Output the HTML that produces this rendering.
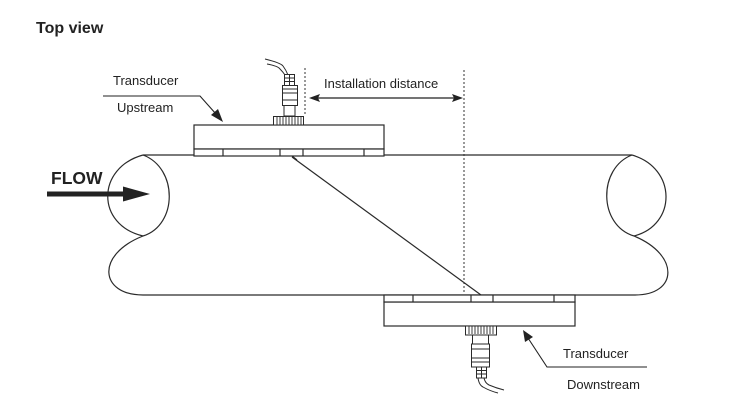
<!DOCTYPE html>
<html><head><meta charset="utf-8"><style>
html,body{margin:0;padding:0;background:#fff;}
svg{display:block;}
text{font-family:"Liberation Sans",Arial,sans-serif;fill:#222;}
</style></head><body>
<svg width="733" height="401" viewBox="0 0 733 401" xmlns="http://www.w3.org/2000/svg">
<rect width="733" height="401" fill="#fff"/>
<text x="36" y="33" font-size="16" font-weight="bold" fill="#111">Top view</text>

<g fill="none" stroke="#2a2a2a" stroke-width="1.2">
<line x1="143" y1="155" x2="632" y2="155"/>
<line x1="143" y1="295" x2="635" y2="295"/>
<path d="M143,155 C96,168 96,225 143,236"/>
<path d="M143,155 C178,168 178,225 143,236"/>
<path d="M143,236 C95,255 100,295 143,295"/>
<path d="M632,155 C598,168 598,225 634,236"/>
<path d="M632,155 C677,168 677,225 634,236"/>
<path d="M634,236 C680,255 678,295 635,295"/>
<line x1="292" y1="157" x2="481" y2="295"/>
</g>

<g fill="#fff" stroke="#2a2a2a" stroke-width="1.2">
<rect x="194" y="125" width="190" height="24"/>
<rect x="194" y="149" width="190" height="7"/>
<line x1="223" y1="149" x2="223" y2="156"/>
<line x1="280" y1="149" x2="280" y2="156"/>
<line x1="303" y1="149" x2="303" y2="156"/>
<line x1="364" y1="149" x2="364" y2="156"/>
</g>
<line x1="292" y1="156" x2="297" y2="160" stroke="#2a2a2a" stroke-width="1.2"/>

<g fill="#fff" stroke="#2a2a2a" stroke-width="1.2">
<rect x="384" y="302" width="191" height="24"/>
<rect x="384" y="295" width="191" height="7"/>
<line x1="413" y1="295" x2="413" y2="302"/>
<line x1="471" y1="295" x2="471" y2="302"/>
<line x1="493" y1="295" x2="493" y2="302"/>
<line x1="554" y1="295" x2="554" y2="302"/>
</g>

<g fill="#fff" stroke="#2a2a2a" stroke-width="1">
<path d="M265,59 Q281,63 283,66 Q286,70 288,75" fill="none"/>
<path d="M267,64 Q278,66 280,69 Q283,72 285,75" fill="none"/>
<rect x="284.5" y="74.5" width="10" height="11"/>
<line x1="284.5" y1="78" x2="294.5" y2="78"/>
<line x1="284.5" y1="81.5" x2="294.5" y2="81.5"/>
<line x1="289.5" y1="74.5" x2="289.5" y2="85.5"/>
<rect x="282.5" y="85.5" width="15" height="20"/>
<line x1="282.5" y1="89" x2="297.5" y2="89"/>
<line x1="282.5" y1="93" x2="297.5" y2="93"/>
<line x1="282.5" y1="100" x2="297.5" y2="100"/>
<rect x="284" y="105.5" width="11" height="10.5"/>
<rect x="273.5" y="116.5" width="30" height="8.5"/>
</g>
<g stroke="#2a2a2a" stroke-width="0.9">
<line x1="277" y1="117" x2="277" y2="125"/><line x1="280" y1="117" x2="280" y2="125"/>
<line x1="283" y1="117" x2="283" y2="125"/><line x1="286" y1="117" x2="286" y2="125"/>
<line x1="289" y1="117" x2="289" y2="125"/><line x1="292" y1="117" x2="292" y2="125"/>
<line x1="295" y1="117" x2="295" y2="125"/><line x1="298" y1="117" x2="298" y2="125"/>
<line x1="301" y1="117" x2="301" y2="125"/>
</g>

<g fill="#fff" stroke="#2a2a2a" stroke-width="1">
<rect x="465.5" y="326" width="31" height="9"/>
<rect x="472.5" y="335" width="16" height="9"/>
<rect x="471.5" y="344" width="18" height="23"/>
<line x1="471.5" y1="349" x2="489.5" y2="349"/>
<line x1="471.5" y1="358" x2="489.5" y2="358"/>
<line x1="471.5" y1="362" x2="489.5" y2="362"/>
<rect x="476.5" y="367" width="10" height="11"/>
<line x1="476.5" y1="370.5" x2="486.5" y2="370.5"/>
<line x1="476.5" y1="374" x2="486.5" y2="374"/>
<line x1="481.5" y1="367" x2="481.5" y2="378"/>
<path d="M478,378 Q479,385 483,387 Q490,391 498,393" fill="none"/>
<path d="M484,378 Q485,383 489,385 Q496,388 504,390" fill="none"/>
</g>
<g stroke="#2a2a2a" stroke-width="0.9">
<line x1="469" y1="326" x2="469" y2="334"/><line x1="472" y1="326" x2="472" y2="334"/>
<line x1="475" y1="326" x2="475" y2="334"/><line x1="478" y1="326" x2="478" y2="334"/>
<line x1="481" y1="326" x2="481" y2="334"/><line x1="484" y1="326" x2="484" y2="334"/>
<line x1="487" y1="326" x2="487" y2="334"/><line x1="490" y1="326" x2="490" y2="334"/>
<line x1="493" y1="326" x2="493" y2="334"/>
</g>

<line x1="305" y1="68" x2="305" y2="115" stroke="#333" stroke-width="1" stroke-dasharray="2,2"/>
<line x1="464" y1="70" x2="464" y2="294" stroke="#333" stroke-width="1" stroke-dasharray="2,2"/>

<line x1="318" y1="98" x2="454" y2="98" stroke="#222" stroke-width="1.2"/>
<polygon points="309,98 320,94 318,98 320,102" fill="#222"/>
<polygon points="463,98 452,94 454,98 452,102" fill="#222"/>
<text x="324" y="88" font-size="13">Installation distance</text>

<text x="113" y="85" font-size="13">Transducer</text>
<text x="117" y="112" font-size="13">Upstream</text>
<polyline points="103,96 200,96 216,114" fill="none" stroke="#222" stroke-width="1.1"/>
<polygon points="223,122 211,115 218,109" fill="#222"/>

<text x="563" y="358" font-size="13">Transducer</text>
<text x="567" y="389" font-size="13">Downstream</text>
<polyline points="647,367 547,367 528,338" fill="none" stroke="#222" stroke-width="1.1"/>
<polygon points="523,330 533,337 525,342" fill="#222"/>

<text x="51" y="184" font-size="17.5" font-weight="bold" fill="#222">FLOW</text>
<rect x="47" y="191.5" width="78" height="5" fill="#222"/>
<polygon points="123,186.5 150,194 123,201.5" fill="#222"/>
</svg>
</body></html>
